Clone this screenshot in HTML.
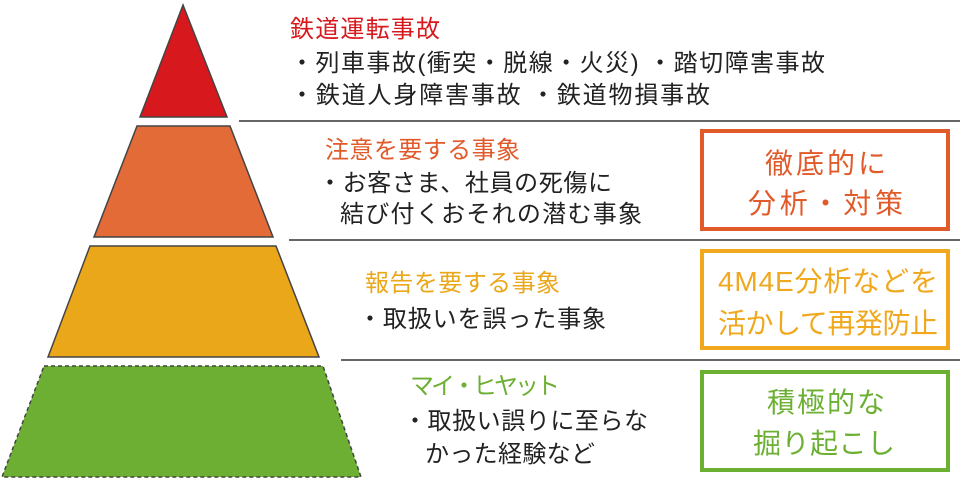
<!DOCTYPE html>
<html><head><meta charset="utf-8"><style>
body{margin:0;background:#fff}
svg text{font-family:"Liberation Sans","Noto Sans CJK JP",sans-serif}
</style></head><body>
<svg width="960" height="482" viewBox="0 0 960 482" xmlns="http://www.w3.org/2000/svg">
<polygon points="183,5 140,117 227,117" fill="#d7181c" stroke="#444" stroke-width="1.5"/>
<polygon points="137,126 230,126 273,237 94,237" fill="#e26b37" stroke="#444" stroke-width="1.5"/>
<polygon points="90,246 276,246 319,357 48,357" fill="#eba71a" stroke="#444" stroke-width="1.5"/>
<polygon points="44,366 323,366 361,477 2,477" fill="#6caf32" stroke="#444" stroke-width="1.5" stroke-dasharray="4,3"/>
<g stroke="#333" stroke-width="1.5">
<line x1="239" y1="121" x2="960" y2="121"/>
<line x1="289" y1="240" x2="960" y2="240"/>
<line x1="341" y1="360" x2="960" y2="360"/>
</g>
<rect x="702" y="131" width="246" height="98" fill="none" stroke="#e05a2a" stroke-width="4"/>
<rect x="702" y="251" width="246" height="97" fill="none" stroke="#f0a81e" stroke-width="4"/>
<rect x="702" y="372" width="246" height="98" fill="none" stroke="#6cb033" stroke-width="4"/>
<g font-size="24" lengthAdjust="spacingAndGlyphs">
<text x="290" y="37" fill="#d7181c" textLength="150">鉄道運転事故</text>
<text x="290" y="71" fill="#222" textLength="535">・列車事故(衝突・脱線・火災) ・踏切障害事故</text>
<text x="290" y="103" fill="#222" textLength="420">・鉄道人身障害事故 ・鉄道物損事故</text>
<text x="325" y="158" fill="#e05a2a" textLength="195">注意を要する事象</text>
<text x="318" y="191" fill="#222" textLength="294">・お客さま、社員の死傷に</text>
<text x="340" y="222" fill="#222" textLength="302">結び付くおそれの潜む事象</text>
<text x="365" y="291" fill="#eba71a" textLength="195">報告を要する事象</text>
<text x="358" y="327" fill="#222" textLength="248">・取扱いを誤った事象</text>
<text x="410" y="394" fill="#6caf32" textLength="150">マイ・ヒヤット</text>
<text x="403" y="429" fill="#222" textLength="245">・取扱い誤りに至らな</text>
<text x="425" y="462" fill="#222" textLength="170">かった経験など</text>
</g>
<g font-size="28" lengthAdjust="spacingAndGlyphs">
<text x="765" y="173" fill="#e05a2a" textLength="121">徹底的に</text>
<text x="748" y="213" fill="#e05a2a" textLength="155">分析・対策</text>
<text x="718" y="291" fill="#f0a81e" textLength="220">4M4E分析などを</text>
<text x="718" y="333" fill="#f0a81e" textLength="220">活かして再発防止</text>
<text x="767" y="412" fill="#6cb033" textLength="118">積極的な</text>
<text x="753" y="453" fill="#6cb033" textLength="142">掘り起こし</text>
</g>
</svg>
</body></html>
